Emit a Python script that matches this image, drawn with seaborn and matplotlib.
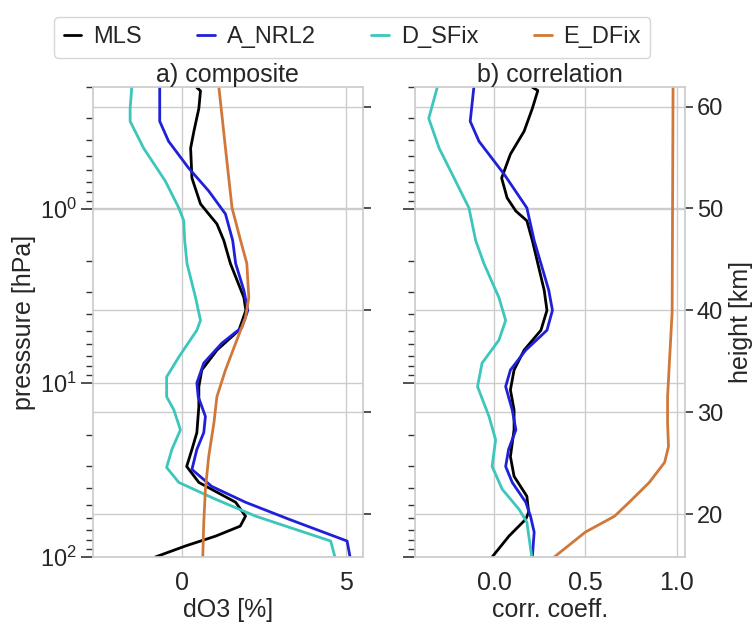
import numpy as np
import pandas as pd
import seaborn as sns
import matplotlib.pyplot as plt

sns.set_theme(style="whitegrid")
plt.rcParams["font.family"] = ["Liberation Sans", "DejaVu Sans"]
plt.rcParams.update({"font.size": 18, "axes.labelsize": 18, "axes.titlesize": 18,
                     "xtick.labelsize": 18, "ytick.labelsize": 17, "legend.fontsize": 17})

# series names and colours
names = ["MLS", "A_NRL2", "D_SFix", "E_DFix"]
colors = ["black", "#2020d8", "#3cc6bc", "#d0783a"]

# ---- a) composite: dO3 [%] vs pressure [hPa]
p_mls_a = [0.2, 0.21, 0.265, 0.358, 0.448, 0.665, 0.936, 1.07, 1.22, 1.52, 2.06, 3.23, 3.83,
           4.98, 6.48, 8.43, 10.5, 13.7, 19.3, 24.1, 30.2, 37.3, 48.5, 58.3, 66.5, 75.9, 86.5, 100]
mls_a = [0.45, 0.57, 0.52, 0.37, 0.27, 0.31, 0.57, 0.82, 1.07, 1.28, 1.48, 1.89, 1.95,
         1.74, 1.07, 0.61, 0.52, 0.52, 0.46, 0.31, 0.15, 0.52, 1.64, 1.94, 1.78, 1.03, 0.11, -0.8]

p_nrl_a = [0.2, 0.314, 0.409, 0.583, 0.789, 1.07, 1.52, 2.06, 2.94, 3.83, 4.79, 5.91, 7.69,
           10.0, 12.0, 13.0, 15.6, 19.3, 24.1, 31.4, 39.3, 48.5, 60.7, 81.0, 100]
nrl_a = [-0.67, -0.67, -0.40, 0.21, 0.82, 1.33, 1.55, 1.64, 1.89, 2.01, 1.83, 1.22, 0.67,
         0.46, 0.50, 0.57, 0.72, 0.67, 0.46, 0.31, 0.91, 1.94, 3.26, 5.03, 5.12]

p_sfix_a = [0.2, 0.265, 0.314, 0.448, 0.692, 0.987, 1.17, 1.52, 2.06, 3.23, 4.37, 4.98, 7.10,
            9.24, 12.0, 14.3, 18.6, 24.1, 30.6, 37.3, 46.6, 58.3, 81.0, 100]
sfix_a = [-1.52, -1.57, -1.57, -1.16, -0.50, -0.09, 0.06, 0.09, 0.16, 0.42, 0.57, 0.46, -0.09,
          -0.46, -0.46, -0.24, -0.04, -0.30, -0.46, -0.09, 1.03, 2.25, 4.53, 4.66]

p_dfix_a = [0.2, 0.448, 0.987, 1.52, 2.06, 3.23, 4.20, 5.91, 8.43, 12.0, 16.9, 26.5, 40.8, 63.1, 100]
dfix_a = [1.13, 1.33, 1.53, 1.79, 1.98, 2.04, 1.94, 1.64, 1.33, 1.07, 0.98, 0.82, 0.72, 0.67, 0.64]

# ---- b) correlation coefficient vs pressure [hPa]
p_mls_b = [0.2, 0.209, 0.265, 0.358, 0.485, 0.665, 0.865, 1.03, 1.17, 1.52, 2.06, 2.94, 3.83,
           4.98, 6.48, 8.43, 10.96, 14.3, 18.6, 26.5, 34.4, 44.8, 55.3, 60.7, 75.9, 100]
mls_b = [0.21, 0.24, 0.21, 0.165, 0.09, 0.042, 0.072, 0.12, 0.18, 0.21, 0.24, 0.275, 0.29,
         0.257, 0.165, 0.11, 0.09, 0.11, 0.11, 0.09, 0.11, 0.18, 0.19, 0.174, 0.082, -0.01]

p_nrl_b = [0.2, 0.314, 0.409, 0.631, 0.987, 1.52, 2.06, 2.94, 3.83, 4.98, 6.48, 8.43, 10.5,
           14.3, 18.6, 24.1, 30.2, 37.3, 48.5, 58.3, 72.0, 100]
nrl_b = [-0.11, -0.13, -0.082, 0.055, 0.18, 0.22, 0.257, 0.30, 0.32, 0.29, 0.174, 0.09, 0.064,
         0.10, 0.12, 0.08, 0.064, 0.10, 0.174, 0.20, 0.22, 0.21]

p_sfix_b = [0.2, 0.302, 0.448, 0.692, 0.987, 1.52, 2.06, 3.23, 4.37, 5.68, 7.69, 10.5, 15.6,
            21.2, 30.2, 40.8, 53.2, 63.1, 100]
sfix_b = [-0.31, -0.357, -0.30, -0.21, -0.137, -0.10, -0.055, 0.027, 0.064, 0.027, -0.065, -0.09,
          -0.027, 0.009, -0.01, 0.045, 0.137, 0.18, 0.207]

p_dfix_b = [0.2, 3.9, 12.0, 16.9, 23.2, 28.6, 37.3, 48.5, 58.3, 72.0, 100]
dfix_b = [0.98, 0.975, 0.95, 0.95, 0.955, 0.934, 0.85, 0.74, 0.66, 0.50, 0.33]

# height axis ticks
heights = [20, 30, 40, 50, 60]

panel_a = [(p_mls_a, mls_a), (p_nrl_a, nrl_a), (p_sfix_a, sfix_a), (p_dfix_a, dfix_a)]
panel_b = [(p_mls_b, mls_b), (p_nrl_b, nrl_b), (p_sfix_b, sfix_b), (p_dfix_b, dfix_b)]

fig, axes = plt.subplots(1, 2, figsize=(7.56, 6.23), dpi=100)
fig.subplots_adjust(left=0.123, right=0.906, bottom=0.106, top=0.860, wspace=0.196)

for ax, panel in zip(axes, [panel_a, panel_b]):
    for (p, v), name, c in zip(panel, names, colors):
        sns.lineplot(x=v, y=p, sort=False, estimator=None, color=c, lw=2,
                     label=name, ax=ax)
    ax.set_yscale("log")
    ax.set_ylim(100, 0.2)
    ax.tick_params(axis="y", which="major", left=True, length=8.5, width=1.2, color="0.2", pad=3)
    ax.tick_params(axis="y", which="minor", left=True, length=5, width=1.0, color="0.2")
    ax.tick_params(axis="x", pad=4)
    ax.get_legend().remove()

    tw = ax.twinx()
    tw.set_ylim(15.8, 61.9)
    tw.set_yticks(heights)
    tw.grid(True, color="0.8")
    tw.tick_params(axis="y", right=True, length=5.5, width=1.2, color="0.2", pad=3)
    for s in tw.spines.values():
        s.set_visible(False)
    ax.set_zorder(tw.get_zorder() + 1)
    ax.patch.set_visible(False)
    ax.twin = tw

ax1, ax2 = axes
ax1.set_xlim(-2.7, 5.5)
ax1.set_xticks([0, 5])
ax1.set_title("a) composite", pad=3)
ax1.set_xlabel("dO3 [%]", labelpad=2)
ax1.set_ylabel("presssure [hPa]", labelpad=3)
ax1.twin.set_yticklabels([])

ax2.set_xlim(-0.43, 1.045)
ax2.set_xticks([0.0, 0.5, 1.0])
ax2.set_xticklabels(["0.0", "0.5", "1.0"])
ax2.set_title("b) correlation", pad=3)
ax2.set_xlabel("corr. coeff.", labelpad=2)
ax2.set_ylabel("")
ax2.tick_params(axis="y", which="both", labelleft=False)
ax2.twin.set_ylabel("height [km]", labelpad=4)

handles, labels = ax1.get_legend_handles_labels()
fig.legend(handles, labels, ncol=4, loc="upper center", bbox_to_anchor=(0.466, 0.992),
           handlelength=0.75, handletextpad=0.5, columnspacing=2.35, borderpad=0.4,
           frameon=True, edgecolor="0.8", fancybox=True)

fig.savefig("out.png", dpi=100)
